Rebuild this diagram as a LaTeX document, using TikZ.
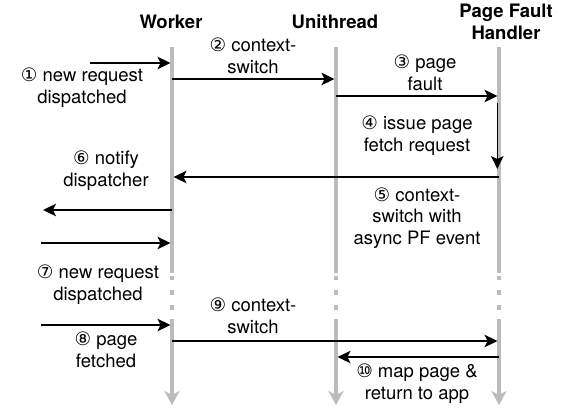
\documentclass[tikz,border=0pt]{standalone}
\usepackage{fontspec}
\setmainfont{TeX Gyre Heros}
\newfontfamily\cdfont{DejaVu Sans}
\usetikzlibrary{arrows.meta}
\newcommand{\cd}[1]{{\cdfont\fontsize{18.5}{18.5}\selectfont #1}}
\definecolor{lifegray}{HTML}{BBBBBB}
\begin{document}
\begin{tikzpicture}[x=1pt,y=-1pt,
  lbl/.style={align=center,inner sep=0pt,font=\fontsize{18.5}{21.8}\selectfont},
  hdr/.style={align=center,inner sep=0pt,font=\bfseries\fontsize{18.5}{21.8}\selectfont},
  life/.style={draw=lifegray,line width=3.6pt},
  lifeend/.style={life,-{Stealth[length=14pt,width=15pt,inset=4pt]}},
  msg/.style={draw=black,line width=1.3pt,-{Stealth[length=13pt,width=12.5pt,inset=3pt]},shorten >=1.5pt},
  plain/.style={draw=black,line width=1.3pt}]
\useasboundingbox[fill=white] (0,0) rectangle (569,408);

% lifeline anchors
\coordinate (w) at (172,47);
\coordinate (u) at (336,47);
\coordinate (p) at (499,47);

% lifelines
\foreach \n in {w,u,p}{
  \draw[life] (\n) -- ([yshift=-226pt]\n);
  \draw[life] ([yshift=-229pt]\n) -- ([yshift=-233pt]\n);
  \draw[life] ([yshift=-243pt]\n) -- ([yshift=-248pt]\n);
  \draw[life] ([yshift=-258pt]\n) -- ([yshift=-263pt]\n);
  \draw[lifeend] ([yshift=-272pt]\n) -- ([yshift=-358pt]\n);
}

% headers
\node[hdr] (hw) at (171,22) {Worker};
\node[hdr] (hu) at (335,22) {Unithread};
\node[hdr] (hp) at (506,21.5) {Page Fault\\Handler};

% message rows
\coordinate (m1) at (90,63);
\coordinate (m2) at (0,79);
\coordinate (m3) at (0,96);
\coordinate (m5) at (0,177);
\coordinate (m6) at (43,210);
\coordinate (m7) at (41,243);
\coordinate (m8) at (41,325);
\coordinate (m9) at (0,341);
\coordinate (m10) at (0,357);
\coordinate (f4a) at (497.3,103);
\coordinate (f4b) at (497.3,169);

% connectors
\draw[msg] (m1) -- (m1 -| w);
\draw[msg] (m2 -| w) -- (m2 -| u);
\draw[msg] (m3 -| u) -- (m3 -| p);
\draw[msg,shorten >=0pt] (f4a) -- (f4b);
\draw[msg] (m5 -| p) -- (m5 -| w);
\draw[msg,shorten >=0pt] (m6 -| w) -- (m6);
\draw[msg] (m7) -- (m7 -| w);
\draw[msg] (m8) -- (m8 -| w);
\draw[msg] (m9 -| w) -- (m9 -| p);
\draw[msg] (m10 -| p) -- (m10 -| u);

% labels
\node[lbl] (l1) at (82,88) {\cd{①} new request\\dispatched};
\node[lbl] (l2) at (253,56) {\cd{②} context-\\switch};
\node[lbl] (l3) at (425,73) {\cd{③} page\\fault};
\node[lbl] (l4) at (417,136) {\cd{④} issue page\\fetch request};
\node[lbl] (l5) at (417,218) {\cd{⑤} context-\\switch with\\async PF event};
\node[lbl] (l6) at (106,171) {\cd{⑥} notify\\dispatcher};
\node[lbl] (l7) at (98,285) {\cd{⑦} new request\\dispatched};
\node[lbl] (l8) at (106,350) {\cd{⑧} page\\fetched};
\node[lbl] (l9) at (253,316) {\cd{⑨} context-\\switch};
\node[lbl] (l10) at (417,384) {\cd{⑩} map page \&\\return to app};
\end{tikzpicture}
\end{document}
